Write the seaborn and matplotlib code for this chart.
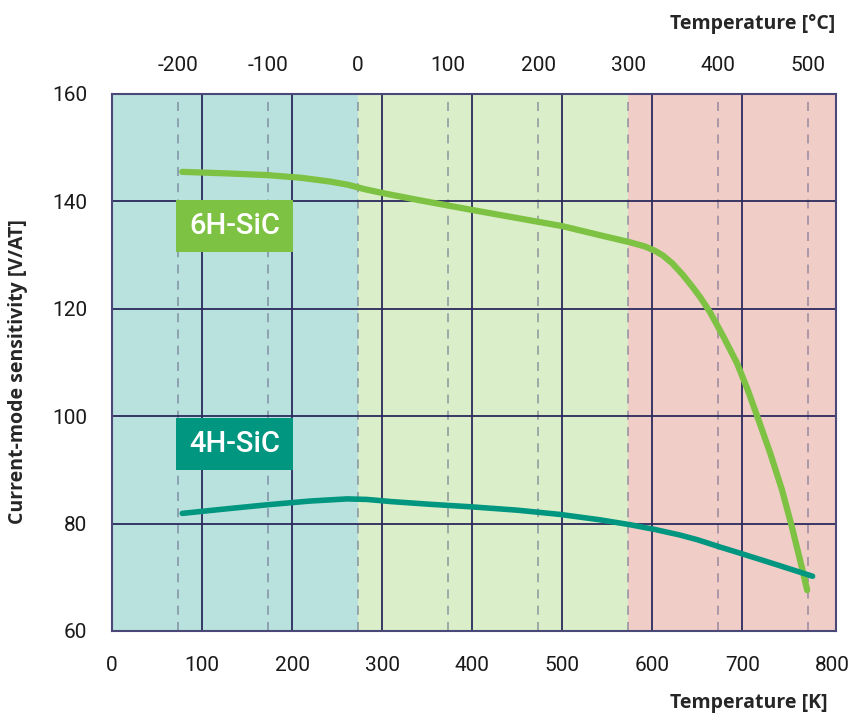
import numpy as np
import pandas as pd
import matplotlib
matplotlib.use("Agg")
import matplotlib.pyplot as plt
import seaborn as sns
from matplotlib.patches import Rectangle

# values
temp_6h = [78, 130, 172, 210, 242, 262, 280, 302, 342, 400, 450, 500, 542, 575, 592, 603,
           612, 622, 634, 645, 653, 664, 679, 694, 706, 718, 731, 744, 755, 766, 772]
sens_6h = [145.5, 145.2, 144.9, 144.4, 143.7, 143.1, 142.3, 141.5, 140.2, 138.4, 136.9, 135.4,
           133.7, 132.4, 131.6, 130.8, 129.9, 128.5, 126.3, 124.0, 122.2, 119.4, 114.8, 109.9,
           104.9, 99.3, 93.1, 86.3, 79.4, 71.9, 67.6]
temp_4h = [78, 130, 172, 220, 261, 283, 310, 353, 401, 450, 498, 542, 575, 603, 630, 650,
           676, 703, 739, 778]
sens_4h = [81.9, 82.8, 83.5, 84.2, 84.6, 84.5, 84.1, 83.6, 83.1, 82.5, 81.7, 80.7, 79.8, 78.9,
           77.9, 77.0, 75.6, 74.2, 72.3, 70.2]

kelvin_ticks = [0, 100, 200, 300, 400, 500, 600, 700, 800]
celsius_ticks = [-200, -100, 0, 100, 200, 300, 400, 500]
y_ticks = [60, 80, 100, 120, 140, 160]

# temperature bands (K)
bands = [(0, 273.15, "#b9e1dd"), (273.15, 573.15, "#daeec9"), (573.15, 804, "#f1cdc8")]

GREEN = "#7dc242"
TEAL = "#00967f"
NAVY = "#2b2a5c"

sns.set_theme(style="white")
plt.rcParams["font.family"] = ["Roboto", "DejaVu Sans"]

df = pd.concat([
    pd.DataFrame({"T": temp_6h, "S": sens_6h, "type": "6H-SiC"}),
    pd.DataFrame({"T": temp_4h, "S": sens_4h, "type": "4H-SiC"}),
])

fig = plt.figure(figsize=(8.59, 7.13), dpi=100)
ax = fig.add_axes([112 / 859, 1 - 631 / 713, (836 - 112) / 859, (631 - 94) / 713])

for x0, x1, col in bands:
    ax.axvspan(x0, x1, color=col, lw=0, zorder=0)

for c in celsius_ticks:
    ax.axvline(c + 273.15, color="#5a5a80", alpha=0.5, lw=1.3, ls=(0, (5, 4)), zorder=1)
for k in kelvin_ticks[1:-1]:
    ax.axvline(k, color=NAVY, lw=1.3, zorder=1)
for y in y_ticks[1:-1]:
    ax.axhline(y, color=NAVY, lw=1.3, zorder=1)

sns.lineplot(data=df, x="T", y="S", hue="type", palette={"6H-SiC": GREEN, "4H-SiC": TEAL},
             sort=False, ax=ax, legend=False, lw=4.5, zorder=3,
             solid_capstyle="round", solid_joinstyle="round")
ax.lines[-1].set_linewidth(4.0)

ax.set_xlim(0, 804)
ax.set_ylim(60, 160)
ax.set_xticks(kelvin_ticks)
ax.set_yticks(y_ticks)
ax.tick_params(axis="both", length=0, labelsize=15, colors="#1a1a1a")
ax.tick_params(axis="x", pad=18)
ax.tick_params(axis="y", pad=18)
for s in ax.spines.values():
    s.set_color("#4a4878")
    s.set_linewidth(1.5)

label_font = dict(fontsize=14, fontweight="bold", family=["Open Sans", "DejaVu Sans"])
ax.set_xlabel("")
ax.set_ylabel("Current-mode sensitivity [V/AT]", **label_font)
ax.yaxis.label.set_va("center")
ax.yaxis.set_label_coords(18 / 859, 1 - 372 / 713, transform=fig.transFigure)

top = ax.twiny()
top.set_xlim(ax.get_xlim())
top.set_xticks([c + 273.15 for c in celsius_ticks])
top.set_xticklabels([str(c) for c in celsius_ticks])
top.tick_params(axis="x", length=0, labelsize=15, pad=14, colors="#1a1a1a")
for s in top.spines.values():
    s.set_visible(False)

fig.text(835 / 859, 1 - 24 / 713, "Temperature [°C]", ha="right", va="center", **label_font)
fig.text(828 / 859, 1 - 703 / 713, "Temperature [K]", ha="right", va="center", **label_font)

# series label boxes
for (x0, y0, y1, txt, col) in [(71, 130.6, 140.3, "6H-SiC", GREEN), (71, 90.0, 99.7, "4H-SiC", TEAL)]:
    ax.add_patch(Rectangle((x0, y0), 130, y1 - y0, color=col, lw=0, zorder=4))
    ax.text(x0 + 65, (y0 + y1) / 2, txt, color="white", fontsize=21, fontweight="medium",
            ha="center", va="center", zorder=5)

fig.savefig("out.png", dpi=100)
